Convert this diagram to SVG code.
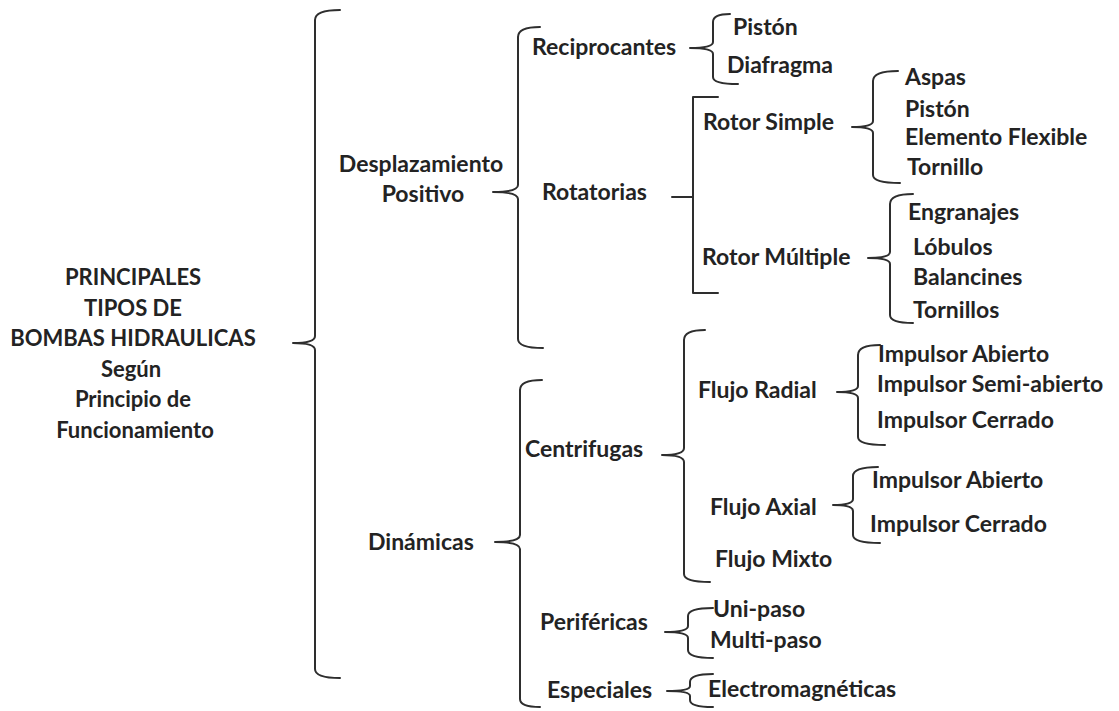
<svg xmlns="http://www.w3.org/2000/svg" width="1119" height="711" viewBox="0 0 1119 711">
<style>
text{font-family:Lato,"Noto Sans",sans-serif;font-weight:700;font-size:23px;fill:#232323}
.m{text-anchor:middle}
.r{font-size:22px}
.b{fill:none;stroke:#2e2e2e;stroke-width:2;stroke-linejoin:round;stroke-linecap:round}
</style>
<rect width="1119" height="711" fill="#fff"/>
<g id="connectors" class="b">
<path d="M340,10 Q315,10 315,20 L315,336 Q315,343 293,343 Q315,343 315,350 L315,669 Q315,678 340,678"/>
<path d="M540,27 Q518,27 518,37 L518,185 Q518,192 493,192 Q518,192 518,199 L518,339 Q518,348 543,348"/>
<path d="M542,380 Q520,380 520,390 L520,535 Q520,542 495,542 Q520,542 520,549 L520,699 Q520,707 540,707"/>
<path d="M730,14 Q713,14 713,22 L713,42 Q713,48 690,48 Q713,48 713,54 L713,77 Q713,84 738,84"/>
<path d="M672,197 L693,197 M718,97 L693,97 L693,293 L718,293"/>
<path d="M898,71 Q873,71 873,81 L873,121 Q873,127 852,127 Q873,127 873,133 L873,175 Q873,183 900,183"/>
<path d="M913,194 Q890,194 890,204 L890,252 Q890,258 868,258 Q890,258 890,264 L890,315 Q890,323 913,323"/>
<path d="M705,330 Q684,330 684,340 L684,448 Q684,455 662,455 Q684,455 684,462 L684,574 Q684,582 710,582"/>
<path d="M880,345 Q858,345 858,355 L858,386 Q858,392 837,392 Q858,392 858,398 L858,437 Q858,445 885,445"/>
<path d="M878,467 Q853,467 853,476 L853,499 Q853,505 833,505 Q853,505 853,511 L853,535 Q853,543 880,543"/>
<path d="M713,608 Q688,608 688,616 L688,626 Q688,632 665,632 Q688,632 688,638 L688,650 Q688,658 713,658"/>
<path d="M713,674 Q690,674 690,682 L690,686 Q690,691 667,691 Q690,691 690,696 L690,700 Q690,707 713,707"/>
</g>
<g id="root" class="r">
<text class="m r" x="133" y="285">PRINCIPALES</text>
<text class="m r" x="133" y="315.5">TIPOS DE</text>
<text class="m r" x="133" y="346">BOMBAS HIDRAULICAS</text>
<text class="m r" x="131" y="376.5">Según</text>
<text class="m r" x="133" y="407">Principio de</text>
<text class="m r" x="135" y="437.5">Funcionamiento</text>
</g>
<g id="desplazamiento"><text class="m" x="421" y="172">Desplazamiento</text><text class="m" x="423" y="202">Positivo</text></g>
<g id="dinamicas"><text x="368" y="550">Dinámicas</text></g>
<g id="reciprocantes"><text x="532" y="55">Reciprocantes</text></g>
<g id="piston1"><text x="733" y="35">Pistón</text></g>
<g id="diafragma"><text x="727" y="73">Diafragma</text></g>
<g id="rotatorias"><text x="542" y="200">Rotatorias</text></g>
<g id="rotor-simple"><text x="703" y="130">Rotor Simple</text></g>
<g id="aspas"><text x="905" y="85">Aspas</text></g>
<g id="piston2"><text x="905" y="117">Pistón</text></g>
<g id="elemento"><text x="905" y="145">Elemento Flexible</text></g>
<g id="tornillo"><text x="907" y="175">Tornillo</text></g>
<g id="rotor-multiple"><text x="702" y="265">Rotor Múltiple</text></g>
<g id="engranajes"><text x="908" y="220">Engranajes</text></g>
<g id="lobulos"><text x="913" y="255">Lóbulos</text></g>
<g id="balancines"><text x="913" y="285">Balancines</text></g>
<g id="tornillos"><text x="913" y="318">Tornillos</text></g>
<g id="centrifugas"><text x="525" y="457">Centrifugas</text></g>
<g id="flujo-radial"><text x="698" y="398">Flujo Radial</text></g>
<g id="radial-abierto"><text x="878" y="362">Impulsor Abierto</text></g>
<g id="radial-semi"><text x="877" y="392">Impulsor Semi-abierto</text></g>
<g id="radial-cerrado"><text x="877" y="428">Impulsor Cerrado</text></g>
<g id="flujo-axial"><text x="710" y="515">Flujo Axial</text></g>
<g id="axial-abierto"><text x="872" y="488">Impulsor Abierto</text></g>
<g id="axial-cerrado"><text x="870" y="532">Impulsor Cerrado</text></g>
<g id="flujo-mixto"><text x="715" y="567">Flujo Mixto</text></g>
<g id="perifericas"><text x="540" y="630">Periféricas</text></g>
<g id="uni-paso"><text x="713" y="617">Uni-paso</text></g>
<g id="multi-paso"><text x="710" y="648">Multi-paso</text></g>
<g id="especiales"><text x="547" y="698">Especiales</text></g>
<g id="electromagneticas"><text x="708" y="697">Electromagnéticas</text></g>
</svg>
